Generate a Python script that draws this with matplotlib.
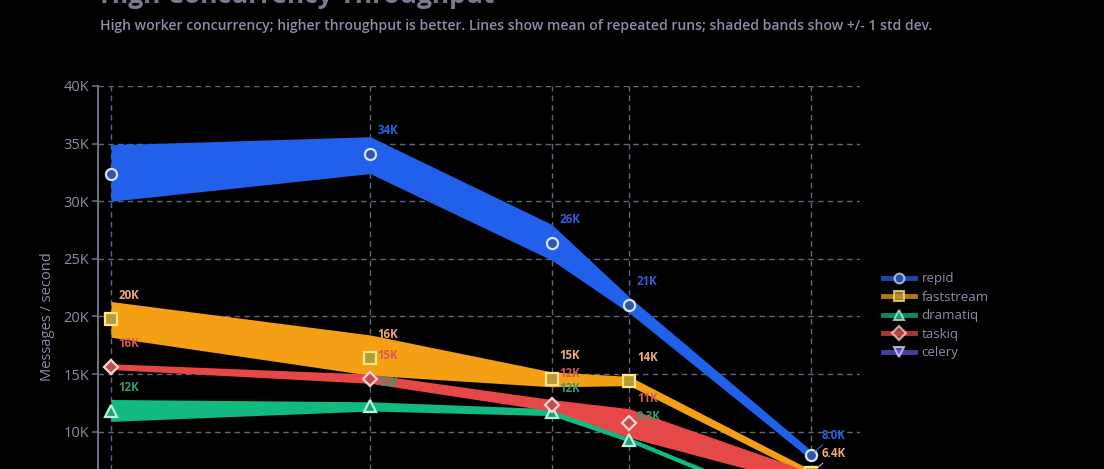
import matplotlib
matplotlib.use("Agg")
import matplotlib.pyplot as plt
from matplotlib.lines import Line2D

plt.rcParams["font.family"] = ["Open Sans", "DejaVu Sans"]

# concurrency levels (x) - tick labels are outside the visible crop
workers = [10, 20, 27, 30, 37]

libs = ["repid", "faststream", "dramatiq", "taskiq", "celery"]

repid_mean = [32400, 34100, 26400, 21000, 8000]
repid_lo = [30000, 32400, 24900, 20300, 7600]
repid_hi = [34900, 35600, 28000, 21700, 8400]

faststream_mean = [19800, 16400, 14600, 14400, 6400]
faststream_lo = [18200, 14900, 13900, 14000, 6100]
faststream_hi = [21300, 18400, 15200, 14800, 6700]

dramatiq_mean = [11800, 12200, 11700, 9300, 2800]
dramatiq_lo = [10900, 11800, 11400, 9100, 2600]
dramatiq_hi = [12800, 12600, 12000, 9500, 3000]

taskiq_mean = [15600, 14600, 12300, 10800, 5900]
taskiq_lo = [15400, 14200, 11800, 9500, 5300]
taskiq_hi = [15900, 15000, 12800, 12000, 6500]

celery_mean = [3500, 3300, 3100, 2800, 2100]
celery_lo = [3300, 3100, 2900, 2600, 1900]
celery_hi = [3700, 3500, 3300, 3000, 2300]

y_ticks = [10000, 15000, 20000, 25000, 30000, 35000, 40000]
y_ticklabels = ["10K", "15K", "20K", "25K", "30K", "35K", "40K"]

series = {
    "repid": (repid_mean, repid_lo, repid_hi),
    "faststream": (faststream_mean, faststream_lo, faststream_hi),
    "dramatiq": (dramatiq_mean, dramatiq_lo, dramatiq_hi),
    "taskiq": (taskiq_mean, taskiq_lo, taskiq_hi),
    "celery": (celery_mean, celery_lo, celery_hi),
}

styles = {
    "repid": dict(color="#2160ea", mfc="#3552b0", mec="#cfe6ff", marker="o", txt="#2f5fe0"),
    "faststream": dict(color="#f5a014", mfc="#b89a35", mec="#fde68a", marker="s", txt="#f0a878"),
    "dramatiq": dict(color="#12b981", mfc="#1f9e73", mec="#b4f5dc", marker="^", txt="#2f9e6c"),
    "taskiq": dict(color="#e64848", mfc="#c0504d", mec="#fed2d2", marker="D", txt="#d45a5a"),
    "celery": dict(color="#5b55d6", mfc="#6a5fd0", mec="#e2dcff", marker="v", txt="#7b74e0"),
}

grid_col = "#62667a"
text_col = "#8a8ea6"


def fmt_k(v):
    if v >= 10000:
        return f"{v / 1000:.0f}K"
    return f"{v / 1000:.1f}K"


fig = plt.figure(figsize=(11.04, 4.69), dpi=100, facecolor="black")
W, H = 1104, 469
# plot area: left 98px, right 860px, top 86px, bottom 547px (below crop)
ax = fig.add_axes([98 / W, (H - 547) / H, 762 / W, 461 / H])
ax.set_facecolor("black")

for name in libs:
    mean, lo, hi = series[name]
    st = styles[name]
    ax.fill_between(workers, lo, hi, color=st["color"], lw=0, zorder=2)
    ax.plot(workers, mean, color=st["color"], lw=2.2, zorder=3,
            marker=st["marker"], ms=8 if st["marker"] != "D" else 7,
            mfc=st["mfc"], mec=st["mec"], mew=1.6)

for name in libs:
    mean, lo, hi = series[name]
    st = styles[name]
    for i, (x, v) in enumerate(zip(workers, mean)):
        dy = 17
        if name == "taskiq" and i == 2:
            dy = 23
        if i == len(workers) - 1 and name in ("taskiq", "dramatiq", "celery"):
            dy = -22
        if i == len(workers) - 1 and name in ("repid", "faststream"):
            ax.annotate(fmt_k(v), (x, v), xytext=(8, 14), textcoords="offset points",
                        color=st["txt"], fontsize=8.3, fontweight="bold",
                        va="center", ha="left", zorder=5,
                        arrowprops=dict(arrowstyle="-", color=st["txt"], lw=0.8,
                                        shrinkA=0, shrinkB=4))
            continue
        ax.annotate(fmt_k(v), (x, v), xytext=(5.5, dy), textcoords="offset points",
                    color=st["txt"], fontsize=8.3, fontweight="bold",
                    va="center", ha="left", zorder=5)

ax.set_xlim(9.5, 38.9)
ax.set_ylim(0, 40000)
ax.set_xticks(workers)
ax.set_xticklabels([])
ax.set_yticks(y_ticks)
ax.set_yticklabels(y_ticklabels)
ax.tick_params(axis="y", colors=grid_col, labelcolor=text_col, labelsize=10.5,
               length=4.5, width=1.2, pad=2)
ax.tick_params(axis="x", length=0)
ax.grid(True, color=grid_col, ls=(0, (4, 3)), lw=1.0, zorder=1)
ax.set_axisbelow(True)
for s in ["top", "right", "bottom"]:
    ax.spines[s].set_visible(False)
ax.spines["left"].set_color("#6b7080")
ax.spines["left"].set_linewidth(1.5)
ax.set_ylabel("Messages / second", color=text_col, fontsize=10.5, labelpad=6)

fig.text(100 / W, 1 - 3 / H, "High Concurrency Throughput", color="#777b92",
         fontsize=19, fontweight="bold", ha="left", va="baseline")
fig.text(100 / W, 1 - 30 / H,
         "High worker concurrency; higher throughput is better. Lines show mean of repeated runs; "
         "shaded bands show +/- 1 std dev.",
         color=text_col, fontsize=10.1, fontweight="semibold", ha="left", va="baseline")

handles = [Line2D([], [], color=styles[n]["color"], lw=3.5, alpha=0.75, marker=styles[n]["marker"],
                  ms=7, mfc=styles[n]["mfc"], mec=styles[n]["mec"], mew=1.5)
           for n in libs]
leg = fig.legend(handles, libs, loc="upper left", bbox_to_anchor=(878 / W, 1 - 267 / H),
                 frameon=False, fontsize=9.5, labelcolor=text_col, handlelength=2.4,
                 handletextpad=0.5, labelspacing=0.42, borderaxespad=0)

fig.savefig("out.png", dpi=100, facecolor="black")
